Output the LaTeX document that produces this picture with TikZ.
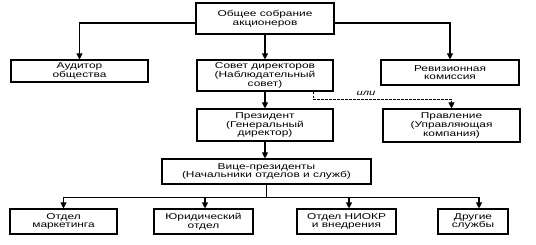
\documentclass[tikz,border=0pt]{standalone}
\usepackage{fontspec}
\setmainfont{Liberation Sans}[FakeStretch=1.4]
\usetikzlibrary{arrows.meta}
\begin{document}
\begin{tikzpicture}[x=1pt,y=-1pt,
  box/.style={draw, line width=1.1pt, align=center, inner sep=0pt,
    font=\fontsize{8.5}{8.6}\selectfont},
  arr/.style={line width=1.1pt, -{Triangle[length=6pt,width=6pt]}},
  ln/.style={line width=1.1pt},
  dsh/.style={line width=0.8pt, dash pattern=on 2.5pt off 1.5pt, -{Triangle[length=6pt,width=6pt]}},
  lbl/.style={font=\itshape\fontsize{8}{8}\selectfont, inner sep=0pt}
]
\useasboundingbox[fill=white] (0,0) rectangle (536,245);

\node[box, minimum width=138pt, minimum height=31pt] (gm) at (265,18.5) {Общее собрание\\акционеров};
\node[box, minimum width=137pt, minimum height=22pt] (aud) at (79.5,71) {Аудитор\\общества};
\node[box, minimum width=136pt, minimum height=31pt] (sov) at (265,75.5) {Совет директоров\\(Наблюдательный\\совет)};
\node[box, minimum width=138pt, minimum height=25pt] (rev) at (450,72.5) {Ревизионная\\комиссия};
\node[box, minimum width=136pt, minimum height=32pt] (pres) at (265,125) {Президент\\(Генеральный\\директор)};
\node[box, minimum width=137pt, minimum height=33pt] (prav) at (451.5,125.5) {Правление\\(Управляющая\\компания)};
\node[box, minimum width=209pt, minimum height=25pt] (vp) at (266.5,171.5) {Вице-президенты\\(Начальники отделов и служб)};
\node[box, minimum width=107pt, minimum height=25pt] (b1) at (63.5,221.5) {Отдел\\маркетинга};
\node[box, minimum width=99pt, minimum height=25pt] (b2) at (203.5,221.5) {Юридический\\отдел};
\node[box, minimum width=99pt, minimum height=25pt] (b3) at (346.5,221.5) {Отдел НИОКР\\и внедрения};
\node[box, minimum width=70pt, minimum height=25pt] (b4) at (473,221.5) {Другие\\службы};

\draw[arr] ([yshift=-4.5pt]gm.west) -| (aud.north);
\draw[arr] ([yshift=-4.5pt]gm.east) -| (rev.north);
\draw[arr] (gm.south) -- (sov.north);
\draw[arr] (sov.south) -- (pres.north);
\draw[dsh] ([xshift=48pt]sov.south) -- ++(0,8) -| (prav.north);
\node[lbl] (ili) at (366,93.5) {или};
\draw[arr] (pres.south) -- (pres.south |- vp.north);
\draw[ln] (vp.south) -- ++(0,13) coordinate (sp);
\draw[arr] (sp) -| (b1.north);
\draw[arr] (sp) -| ([xshift=1.5pt]b2.north);
\draw[arr] (sp) -| ([xshift=2.5pt]b3.north);
\draw[arr] (sp) -| ([xshift=6pt]b4.north);
\end{tikzpicture}
\end{document}
